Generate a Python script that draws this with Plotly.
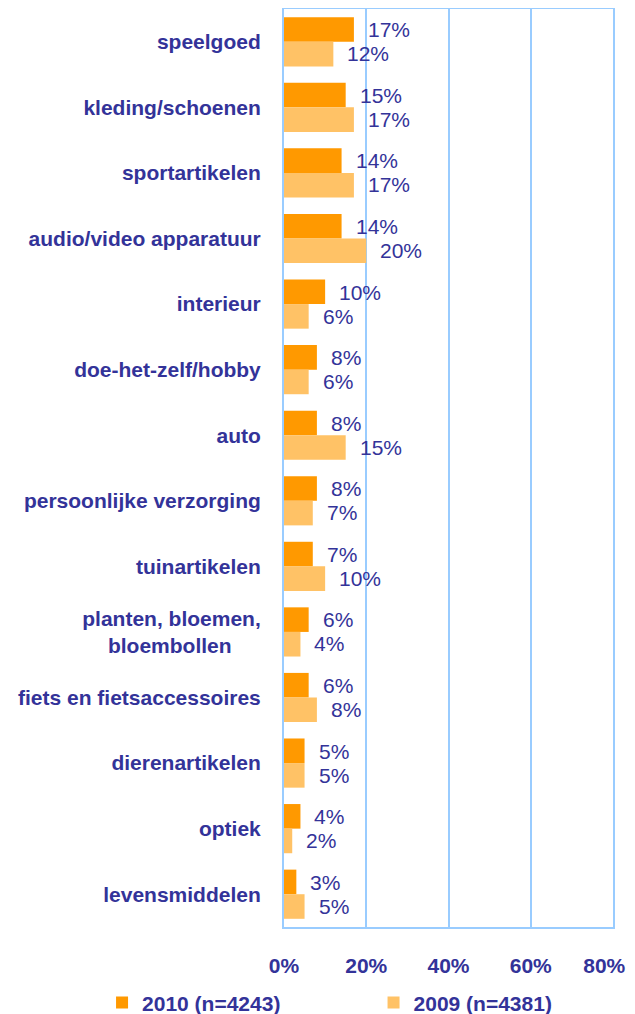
import plotly.graph_objects as go

categories = [
    "speelgoed", "kleding/schoenen", "sportartikelen", "audio/video apparatuur",
    "interieur", "doe-het-zelf/hobby", "auto", "persoonlijke verzorging",
    "tuinartikelen", "planten, bloemen,<br>bloembollen" + "\u00a0" * 5,
    "fiets en fietsaccessoires", "dierenartikelen", "optiek", "levensmiddelen",
]
pct_2010 = [17, 15, 14, 14, 10, 8, 8, 8, 7, 6, 6, 5, 4, 3]
pct_2009 = [12, 17, 17, 20, 6, 6, 15, 7, 10, 4, 8, 5, 2, 5]
x_ticks = [0, 20, 40, 60, 80]
# laatste label iets naar links zodat het niet afgeknipt wordt
x_ticktext = ["0%", "20%", "40%", "60%", "80%" + "\u00a0" * 3]

navy = "#333399"
frame = "#99CCFF"
font = "Liberation Sans, Arial, sans-serif"
fs = 21

fig = go.Figure()
fig.add_trace(go.Bar(
    y=categories, x=pct_2010, orientation="h", name="2010 (n=4243)",
    marker=dict(color="#FF9900", line=dict(width=0)), legend="legend",
))
fig.add_trace(go.Bar(
    y=categories, x=pct_2009, orientation="h", name="2009 (n=4381)",
    marker=dict(color="#FFC266", line=dict(width=0)), legend="legend2",
))

# waardelabels naast de balken
for vals, shift in ((pct_2010, 12), (pct_2009, -12)):
    for cat, v in zip(categories, vals):
        fig.add_annotation(
            x=v, y=cat, text=f"{v}%", showarrow=False,
            xanchor="left", yanchor="middle", xshift=12, yshift=shift,
            font=dict(family=font, size=fs, color=navy),
        )

legend_style = dict(
    orientation="h", xref="container", yref="container",
    yanchor="middle", xanchor="left",
    font=dict(family=font, size=fs, color=navy, weight="bold"),
    bgcolor="rgba(0,0,0,0)",
)

# de pagina heeft 8px body-marge, dus figuur iets kleiner
fig.update_layout(
    width=627, height=1006,
    margin=dict(l=276, r=22, t=1, b=87),
    plot_bgcolor="white", paper_bgcolor="white",
    barmode="group", bargap=0.25, bargroupgap=0,
    font=dict(family=font, size=fs, color=navy),
    showlegend=True,
    legend=dict(legend_style, x=0.150, y=0.011),
    legend2=dict(legend_style, x=0.583, y=0.011),
    xaxis=dict(
        range=[0, 80], tickvals=x_ticks, ticktext=x_ticktext,
        showgrid=True, gridcolor=frame, gridwidth=2,
        showline=True, linecolor=frame, linewidth=2, mirror=True,
        zeroline=False, ticks="", ticklabelstandoff=19, automargin=False,
        ticklabeloverflow="allow",
        tickfont=dict(family=font, size=fs, color=navy, weight="bold"),
    ),
    yaxis=dict(
        autorange="reversed", showgrid=False,
        showline=True, linecolor=frame, linewidth=2, mirror=True,
        ticks="", ticklabelstandoff=17, automargin=False,
        tickfont=dict(family=font, size=fs, color=navy, weight="bold"),
    ),
)

fig.write_html("out.html")
